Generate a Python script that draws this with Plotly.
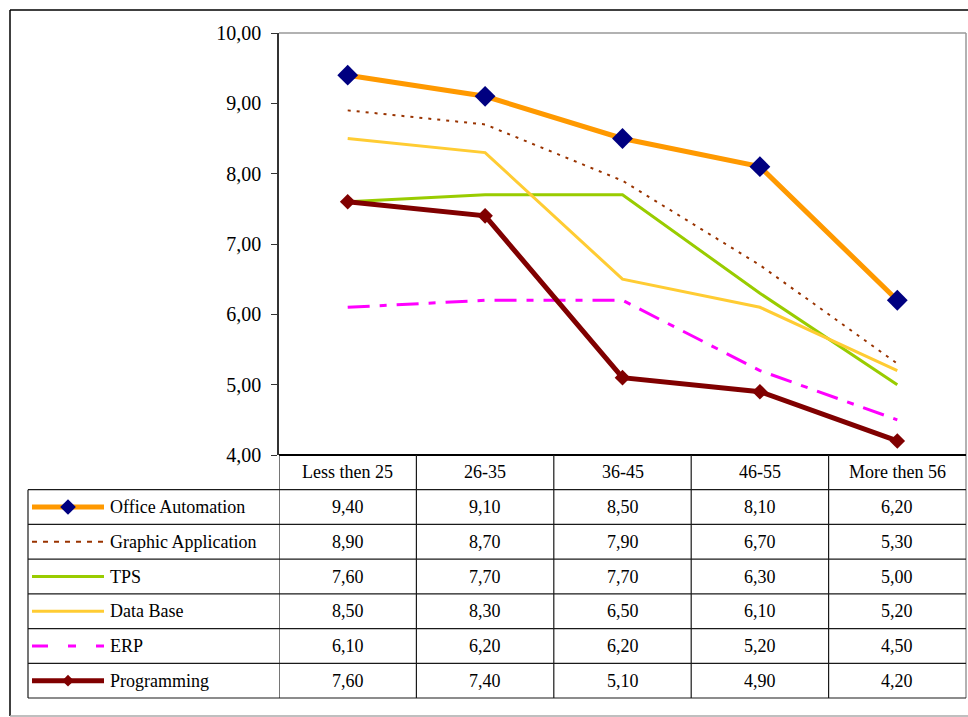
import plotly.graph_objects as go

# Age groups and average scores per application area
categories = ["Less then 25", "26-35", "36-45", "46-55", "More then 56"]
series_names = ["Office Automation", "Graphic Application", "TPS", "Data Base", "ERP", "Programming"]
office_automation = [9.40, 9.10, 8.50, 8.10, 6.20]
graphic_application = [8.90, 8.70, 7.90, 6.70, 5.30]
tps = [7.60, 7.70, 7.70, 6.30, 5.00]
data_base = [8.50, 8.30, 6.50, 6.10, 5.20]
erp = [6.10, 6.20, 6.20, 5.20, 4.50]
programming = [7.60, 7.40, 5.10, 4.90, 4.20]
y_ticks = [4, 5, 6, 7, 8, 9, 10]

series_values = [office_automation, graphic_application, tps, data_base, erp, programming]

# Line styles: (line colour, width, dash, marker symbol, marker colour, marker size)
styles = [
    ("#FF9900", 5, "solid", "diamond", "#000080", 16),
    ("#993300", 2, "3px,6px", None, None, 0),
    ("#99CC00", 3, "solid", None, None, 0),
    ("#FFCC33", 3, "solid", None, None, 0),
    ("#FF00FF", 3, "22px,10px,7px,10px", None, None, 0),
    ("#800000", 5, "solid", "diamond", "#800000", 12),
]

W, H = 968, 717
PLOT_L, PLOT_R, PLOT_T, PLOT_B = 279, 966, 33, 455
TABLE_L, TABLE_B = 28, 698
ROW_H = (TABLE_B - PLOT_B) / 7.0
KEY_L, KEY_R, LABEL_X = 32, 104, 108
SERIF = "Liberation Serif, Times New Roman, serif"


def px(x):
    return x / W


def py(y):
    return 1 - y / H


def row_center(k):
    # k = 0 is the header row
    return PLOT_B + ROW_H * (k + 0.5)


def fmt(v):
    return f"{v:.2f}".replace(".", ",")


fig = go.Figure()
xs = list(range(len(categories)))

for name, vals, st in zip(series_names, series_values, styles):
    color, width, dash, sym, mcol, msize = st
    mode = "lines+markers" if sym else "lines"
    fig.add_trace(go.Scatter(
        x=xs, y=vals, mode=mode, name=name, showlegend=False,
        line=dict(color=color, width=width, dash=dash),
        marker=dict(symbol=sym or "circle", color=mcol or color, size=msize,
                    line=dict(width=0)),
        xaxis="x", yaxis="y", hoverinfo="skip",
    ))

# Legend keys drawn in the first column of the data table
key_dash = {"3px,6px": "5px,6px", "22px,10px,7px,10px": "16px,20px,8px,20px"}
for i, (name, st) in enumerate(zip(series_names, styles)):
    color, width, dash, sym, mcol, msize = st
    fig.add_trace(go.Scatter(
        x=[0, 1], y=[i, i], mode="lines", showlegend=False,
        line=dict(color=color, width=width, dash=key_dash.get(dash, dash)),
        xaxis="x2", yaxis="y2", hoverinfo="skip",
    ))
    if sym:
        fig.add_trace(go.Scatter(
            x=[0.5], y=[i], mode="markers", showlegend=False,
            marker=dict(symbol=sym, color=mcol, size=msize * 0.75, line=dict(width=0)),
            xaxis="x2", yaxis="y2", hoverinfo="skip",
        ))

shapes = []
line_dark = dict(color="#1a1a1a", width=1.2)
line_grey = dict(color="#999999", width=1.5)

# Outer chart frame
shapes.append(dict(type="line", xref="paper", yref="paper", x0=px(10), x1=1.0, y0=py(10), y1=py(10), line=dict(color="black", width=1.5)))
shapes.append(dict(type="line", xref="paper", yref="paper", x0=px(10), x1=px(10), y0=py(10), y1=py(716), line=dict(color="black", width=1.5)))
shapes.append(dict(type="line", xref="paper", yref="paper", x0=px(10), x1=1.0, y0=py(716), y1=py(716), line=dict(color="#aaaaaa", width=1.5)))

# Plot area top and right border
shapes.append(dict(type="line", xref="paper", yref="paper", x0=px(PLOT_L), x1=px(PLOT_R), y0=py(PLOT_T), y1=py(PLOT_T), line=line_grey))
shapes.append(dict(type="line", xref="paper", yref="paper", x0=px(PLOT_R), x1=px(PLOT_R), y0=py(PLOT_T), y1=py(TABLE_B), line=line_grey))

# Table horizontal rules
shapes.append(dict(type="line", xref="paper", yref="paper", x0=px(PLOT_L), x1=px(PLOT_R), y0=py(PLOT_B), y1=py(PLOT_B), line=dict(color="black", width=2)))
for k in range(1, 8):
    y = PLOT_B + ROW_H * k
    shapes.append(dict(type="line", xref="paper", yref="paper", x0=px(TABLE_L), x1=px(PLOT_R), y0=py(y), y1=py(y), line=line_dark))
# Table vertical rules
shapes.append(dict(type="line", xref="paper", yref="paper", x0=px(TABLE_L), x1=px(TABLE_L), y0=py(PLOT_B + ROW_H), y1=py(TABLE_B), line=line_dark))
for i in range(len(categories)):
    shapes.append(dict(type="line", xref="x", yref="paper", x0=i - 0.5, x1=i - 0.5, y0=py(PLOT_B), y1=py(TABLE_B), line=line_dark))

annotations = []
font_tbl = dict(family=SERIF, size=18, color="black")
for i, c in enumerate(categories):
    annotations.append(dict(x=i, xref="x", y=py(row_center(0)), yref="paper", text=c, showarrow=False, font=font_tbl, xanchor="center", yanchor="middle"))
    for r, vals in enumerate(series_values):
        annotations.append(dict(x=i, xref="x", y=py(row_center(r + 1)), yref="paper", text=fmt(vals[i]), showarrow=False, font=font_tbl, xanchor="center", yanchor="middle"))
for r, name in enumerate(series_names):
    annotations.append(dict(x=px(LABEL_X), xref="paper", y=py(row_center(r + 1)), yref="paper", text=name, showarrow=False, font=font_tbl, xanchor="left", yanchor="middle"))

fig.update_layout(
    width=W, height=H,
    margin=dict(l=0, r=0, t=0, b=0, autoexpand=False),
    paper_bgcolor="white", plot_bgcolor="white",
    separators=", ",
    font=dict(family=SERIF),
    xaxis=dict(domain=[px(PLOT_L), px(PLOT_R)], range=[-0.5, len(categories) - 0.5], automargin=False,
               showgrid=False, zeroline=False, showticklabels=False, ticks="", showline=False),
    yaxis=dict(domain=[py(PLOT_B), py(PLOT_T)], range=[4, 10], tickvals=y_ticks, tickformat=".2f",
               automargin=False,
               showgrid=False, zeroline=False, showline=True, linecolor="#333333", linewidth=1.5,
               ticks="outside", ticklen=6, tickcolor="#333333", tickwidth=1.2, ticklabelstandoff=6,
               tickfont=dict(family=SERIF, size=20, color="black")),
    xaxis2=dict(domain=[px(KEY_L), px(KEY_R)], range=[0, 1], visible=False, anchor="y2", automargin=False),
    yaxis2=dict(domain=[py(TABLE_B), py(PLOT_B + ROW_H)], range=[5.5, -0.5], visible=False, anchor="x2", automargin=False),
    shapes=shapes,
    annotations=annotations,
)

fig.write_html("out.html")
